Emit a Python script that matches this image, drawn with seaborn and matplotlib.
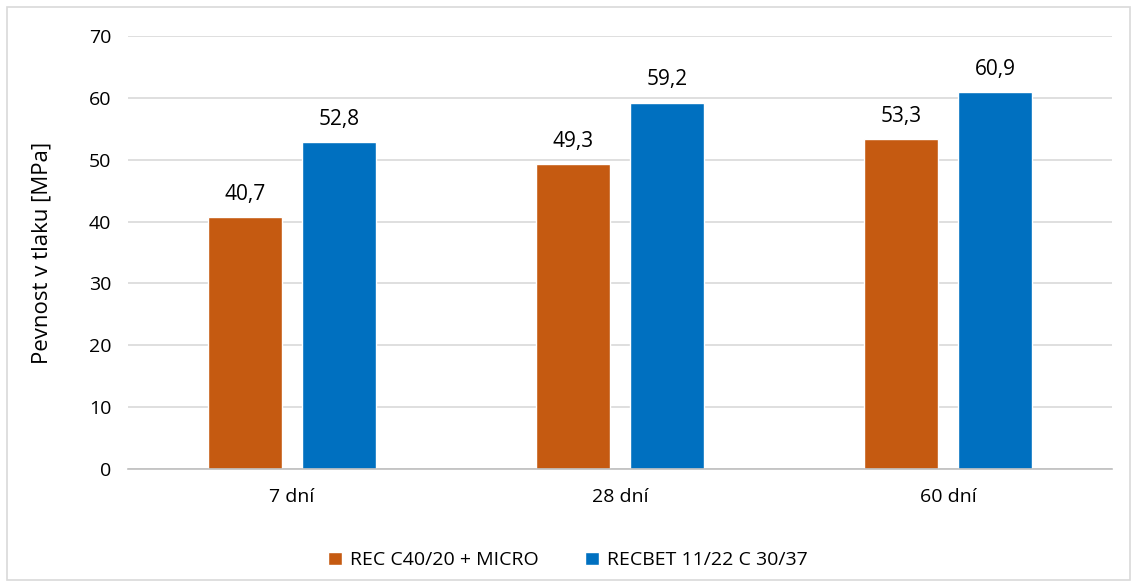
import pandas as pd
import matplotlib.pyplot as plt
import seaborn as sns
from matplotlib.patches import Rectangle

# Data
categories = ["7 dní", "28 dní", "60 dní"]
series_names = ["REC C40/20 + MICRO", "RECBET 11/22 C 30/37"]
rec_values = [40.7, 49.3, 53.3]
recbet_values = [52.8, 59.2, 60.9]
colors = ["#C55A11", "#0070C0"]

df = pd.DataFrame({
    "Stáří": categories * 2,
    "Série": [series_names[0]] * 3 + [series_names[1]] * 3,
    "Pevnost": rec_values + recbet_values,
})

sns.set_style("white")
plt.rcParams["font.family"] = ["Open Sans", "DejaVu Sans"]
plt.rcParams["text.color"] = "black"
plt.rcParams["axes.labelcolor"] = "black"

fig = plt.figure(figsize=(11.37, 5.87), dpi=100)
ax = fig.add_axes([128 / 1137, 1 - 469 / 587, 984 / 1137, 433 / 587])

sns.barplot(data=df, x="Stáří", y="Pevnost", hue="Série", palette=colors,
            width=0.575, gap=0.215, saturation=1, ax=ax, legend=True)

ax.set_xlim(-0.5, 2.5)
ax.set_ylim(0, 70)
ax.set_yticks(range(0, 71, 10))
ax.yaxis.grid(True, color="#D9D9D9", linewidth=1.2)
ax.set_axisbelow(True)
for s in ["top", "right", "left"]:
    ax.spines[s].set_visible(False)
ax.spines["bottom"].set_color("#BFBFBF")
ax.spines["bottom"].set_linewidth(1.2)
ax.tick_params(axis="both", length=0, labelsize=14, colors="black", pad=12)
ax.tick_params(axis="x", pad=14)
ax.set_xlabel("")
ax.set_ylabel("Pevnost v tlaku [MPa]", fontsize=16, labelpad=26, color="black")

for cont in ax.containers:
    labels = [f"{v:.1f}".replace(".", ",") for v in cont.datavalues]
    ax.bar_label(cont, labels=labels, padding=9, fontsize=15, color="black")

leg = ax.legend(loc="upper center", bbox_to_anchor=(0.447, -0.15), ncol=2, frameon=False,
                fontsize=14, handlelength=0.7, handleheight=0.7, handletextpad=0.4,
                columnspacing=2.4)
for t in leg.get_texts():
    t.set_color("black")

fig.patches.append(Rectangle((7 / 1137, 7 / 587), 1123 / 1137, 573 / 587,
                             transform=fig.transFigure, fill=False,
                             edgecolor="#D9D9D9", linewidth=1.2))

fig.savefig("out.png", dpi=100)
